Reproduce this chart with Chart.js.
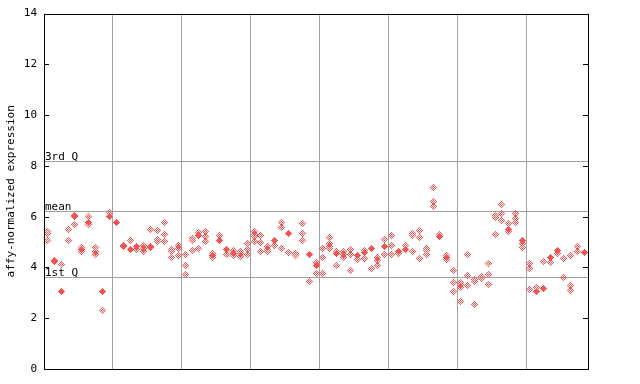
<!DOCTYPE html>
<html>
<head>
<meta charset="utf-8">
<script src="https://cdn.jsdelivr.net/npm/chart.js@4/dist/chart.umd.min.js"></script>
<style>
  html, body { margin: 0; padding: 0; background: #fff; }
</style>
</head>
<body>
<canvas id="exprChart" width="640" height="384"></canvas>
<script>
// Hatched diamonds, one list per sample (left to right)
const hatchedValues = [
    [5.40, 5.33, 5.05], [4.28, 4.22], [4.13], [5.49, 5.05], [6.06, 5.99, 5.69],
    [4.78, 4.61], [5.99, 5.69], [4.77, 4.64, 4.52], [2.32], [6.16],
    [], [4.86], [5.07], [4.70], [4.86, 4.75, 4.61],
    [5.49, 4.84], [5.46, 5.10, 5.03], [5.78, 5.31, 5.03], [4.71, 4.61, 4.39], [4.86, 4.74, 4.46],
    [4.51, 4.08, 3.72], [5.16, 5.05, 4.68], [5.36, 4.76], [5.40, 5.20, 5.02], [4.55, 4.39],
    [5.27], [4.51], [4.68, 4.48], [4.61, 4.55, 4.42], [4.94, 4.72, 4.51],
    [5.40, 5.28, 5.20, 5.01], [5.24, 4.98, 4.64], [4.81, 4.70, 4.63], [4.85], [5.78, 5.57, 4.75],
    [4.59], [4.55, 4.48], [5.73, 5.33, 5.07], [3.45], [4.18, 3.76],
    [4.75, 4.39, 3.76], [5.17, 4.94, 4.84, 4.75], [4.64, 4.06], [4.64, 4.51, 4.39], [4.71, 4.51, 3.88],
    [4.31], [4.68, 4.35], [3.96], [4.38, 4.26, 4.06], [5.10, 4.51],
    [5.26, 4.86, 4.51], [4.55], [4.88], [5.33, 5.24, 4.63], [5.44, 5.18, 4.35],
    [4.75, 4.67, 4.51], [7.14, 6.59, 6.40], [5.30], [4.46, 4.31], [3.88, 3.41, 3.06],
    [3.42, 3.32, 3.21, 2.66], [4.51, 3.68, 3.29], [3.54, 3.45, 2.54], [3.65, 3.57], [4.16, 3.72, 3.33],
    [6.04, 5.95, 5.30], [6.49, 6.12, 5.85], [5.73, 5.40], [6.12, 5.94, 5.77], [4.93, 4.79],
    [4.16, 3.96, 3.13], [3.21], [4.23], [4.19], [4.55],
    [4.35, 3.62], [4.47, 3.29, 3.09], [4.83, 4.63], []
];

// Filled diamonds, one per sample (null = none)
const solidValues = [
    null, null, 3.04, null, null, 4.71, 5.77, null, 3.04, 5.99,
    5.76, 4.81, 4.71, 4.81, null, 4.77, null, null, null, null,
    null, null, 5.27, null, 4.47, 5.07, 4.71, 4.55, null, null,
    null, null, null, 5.05, null, 5.32, null, null, 4.53, 4.09,
    null, null, 4.55, null, null, 4.48, 4.59, 4.75, null, 4.81,
    null, 4.61, 4.69, null, null, null, null, 5.20, 4.38, null,
    null, null, null, null, null, null, null, 5.48, null, 5.05,
    null, 3.04, 3.16, 4.39, 4.65, null, null, null, 4.60
];

const yTicks = [0, 2, 4, 6, 8, 10, 12, 14];
const refLabels = ["3rd Q", "mean", "1st Q"];
const refValues = [8.21, 6.21, 3.62];

const sampleCount = hatchedValues.length;
const red = "#ff5050";
const monoFont = "'DejaVu Sans Mono', monospace";

// little pixel diamonds like the original plot
function makeDiamond(solid) {
    const c = document.createElement("canvas");
    c.width = 7;
    c.height = 7;
    const g = c.getContext("2d");
    g.fillStyle = red;
    for (let dy = -3; dy <= 3; dy++) {
        for (let dx = -3; dx <= 3; dx++) {
            if (Math.abs(dx) + Math.abs(dy) > 3) continue;
            if (solid || (dx + dy) % 2 !== 0) g.fillRect(dx + 3, dy + 3, 1, 1);
        }
    }
    return c;
}

const hatchedPoints = [];
hatchedValues.forEach((vals, i) => vals.forEach(v => hatchedPoints.push({ x: i + 0.5, y: v })));
const solidPoints = [];
solidValues.forEach((v, i) => { if (v !== null) solidPoints.push({ x: i + 0.5, y: v }); });

// quartile / mean lines, inner ticks and frame
const decorPlugin = {
    id: "decor",
    beforeDatasetsDraw(chart) {
        const { ctx, chartArea: a, scales: { y } } = chart;
        ctx.save();
        ctx.strokeStyle = "#a0a0a0";
        ctx.lineWidth = 1;
        ctx.fillStyle = "#000";
        ctx.font = "11px " + monoFont;
        ctx.textBaseline = "alphabetic";
        refValues.forEach((v, i) => {
            const py = Math.round(y.getPixelForValue(v)) + 0.5;
            ctx.beginPath();
            ctx.moveTo(a.left, py);
            ctx.lineTo(a.right, py);
            ctx.stroke();
            ctx.fillText(refLabels[i], a.left + 1, py - 1.5);
        });
        ctx.restore();
        ctx.imageSmoothingEnabled = false;
    },
    afterDatasetsDraw(chart) {
        const { ctx, chartArea: a, scales: { y } } = chart;
        ctx.imageSmoothingEnabled = true;
        ctx.save();
        ctx.strokeStyle = "#000";
        ctx.lineWidth = 1;
        ctx.beginPath();
        yTicks.forEach(t => {
            const py = Math.round(y.getPixelForValue(t)) + 0.5;
            ctx.moveTo(a.left, py);
            ctx.lineTo(a.left + 5, py);
            ctx.moveTo(a.right - 5, py);
            ctx.lineTo(a.right, py);
        });
        ctx.stroke();
        ctx.strokeRect(Math.round(a.left) + 0.5, Math.round(a.top) + 0.5,
            Math.round(a.right - a.left), Math.round(a.bottom - a.top));
        ctx.restore();
    }
};

const config = {
    type: "scatter",
    data: {
        datasets: [
            {
                label: "filled",
                data: solidPoints,
                pointStyle: makeDiamond(true),
            },
            {
                label: "hatched",
                data: hatchedPoints,
                pointStyle: makeDiamond(false),
            },
        ],
    },
    options: {
        responsive: false,
        animation: false,
        layout: { padding: { top: 13, right: 52, left: 0, bottom: 0 } },
        plugins: {
            legend: { display: false },
            tooltip: { enabled: false },
        },
        scales: {
            x: {
                type: "linear",
                min: 0,
                max: sampleCount,
                border: { display: false },
                grid: { color: "#a0a0a0", drawTicks: false },
                ticks: { display: false, stepSize: 10 },
                afterFit: s => { s.height = 15; },
            },
            y: {
                min: 0,
                max: 14,
                border: { display: false },
                grid: { display: false, drawTicks: false, tickLength: 0 },
                ticks: {
                    stepSize: 2,
                    color: "#000",
                    padding: 7,
                    font: { family: monoFont, size: 11 },
                },
                title: {
                    display: true,
                    text: "affy-normalized expression",
                    color: "#000",
                    padding: { top: 5, bottom: 0 },
                    font: { family: monoFont, size: 11 },
                },
                afterFit: s => { s.width = 44; },
            },
        },
    },
    plugins: [decorPlugin],
};

new Chart(document.getElementById("exprChart"), config);
</script>
</body>
</html>
